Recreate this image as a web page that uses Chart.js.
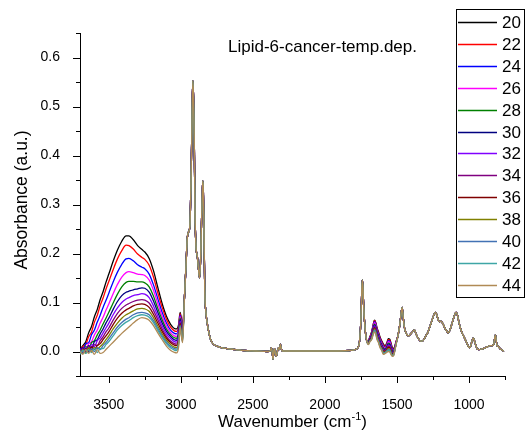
<!DOCTYPE html>
<html>
<head>
<meta charset="utf-8">
<script src="https://cdn.jsdelivr.net/npm/chart.js@4/dist/chart.umd.min.js"></script>
<style>body{margin:0;background:#fff}</style>
</head>
<body>
<canvas id="chart" width="532" height="438"></canvas>
<script>
'use strict';

// 온도 (legend)
const temps = ['20', '22', '24', '26', '28', '30', '32', '34', '36', '38', '40', '42', '44'];
const colors = ['#000000', '#ff0000', '#0000ff', '#ff00ff', '#008000', '#000080', '#8000ff',
    '#800080', '#800000', '#808000', '#4272b4', '#3ea6a6', '#b08a55'];

// O-H band: every temperature has its own curve here
const wnOH = [3700, 3680, 3660, 3640, 3620, 3600, 3580, 3560, 3540, 3520, 3500, 3470, 3440, 3410, 3380, 3360,
    3330, 3300, 3270, 3250, 3220, 3190, 3160, 3130, 3100, 3070, 3045, 3030, 3015, 3005, 2998, 2988];
const ohBand = [
    [0.004, 0.012, 0.020, 0.038, 0.051, 0.071, 0.086, 0.106, 0.122, 0.141, 0.158, 0.184, 0.207, 0.225, 0.236, 0.236, 0.228, 0.216, 0.208, 0.203, 0.190, 0.165, 0.131, 0.098, 0.072, 0.055, 0.047, 0.046, 0.056, 0.080, 0.070, 0.050],
    [0.002, 0.010, 0.014, 0.030, 0.040, 0.060, 0.074, 0.094, 0.109, 0.127, 0.143, 0.167, 0.189, 0.206, 0.217, 0.216, 0.209, 0.199, 0.192, 0.188, 0.176, 0.152, 0.120, 0.090, 0.066, 0.049, 0.042, 0.041, 0.052, 0.077, 0.066, 0.047],
    [0.006, 0.002, 0.016, 0.018, 0.034, 0.044, 0.060, 0.074, 0.090, 0.104, 0.119, 0.142, 0.162, 0.178, 0.189, 0.190, 0.185, 0.177, 0.172, 0.169, 0.158, 0.136, 0.108, 0.080, 0.058, 0.043, 0.037, 0.036, 0.048, 0.074, 0.062, 0.044],
    [0.000, 0.008, 0.004, 0.016, 0.020, 0.034, 0.044, 0.058, 0.070, 0.084, 0.097, 0.118, 0.137, 0.152, 0.161, 0.163, 0.161, 0.158, 0.157, 0.155, 0.146, 0.125, 0.098, 0.072, 0.052, 0.038, 0.032, 0.031, 0.044, 0.071, 0.058, 0.041],
    [0.004, -0.002, 0.010, 0.006, 0.018, 0.022, 0.034, 0.044, 0.056, 0.068, 0.080, 0.099, 0.117, 0.132, 0.141, 0.143, 0.143, 0.142, 0.142, 0.140, 0.132, 0.113, 0.088, 0.065, 0.046, 0.034, 0.028, 0.027, 0.040, 0.068, 0.055, 0.038],
    [0.000, 0.008, 0.000, 0.012, 0.008, 0.020, 0.024, 0.036, 0.046, 0.058, 0.068, 0.086, 0.102, 0.114, 0.121, 0.123, 0.126, 0.128, 0.130, 0.129, 0.121, 0.103, 0.080, 0.058, 0.041, 0.030, 0.024, 0.023, 0.036, 0.065, 0.052, 0.035],
    [0.004, -0.002, 0.008, 0.002, 0.014, 0.010, 0.022, 0.028, 0.038, 0.048, 0.058, 0.075, 0.089, 0.100, 0.107, 0.110, 0.114, 0.116, 0.118, 0.117, 0.110, 0.093, 0.072, 0.052, 0.036, 0.026, 0.020, 0.019, 0.032, 0.062, 0.049, 0.032],
    [-0.002, 0.006, -0.002, 0.010, 0.004, 0.014, 0.012, 0.022, 0.030, 0.040, 0.048, 0.064, 0.078, 0.088, 0.095, 0.098, 0.102, 0.105, 0.106, 0.105, 0.099, 0.084, 0.065, 0.046, 0.031, 0.021, 0.016, 0.015, 0.028, 0.059, 0.046, 0.029],
    [0.002, -0.004, 0.006, 0.000, 0.010, 0.004, 0.012, 0.016, 0.024, 0.032, 0.040, 0.055, 0.068, 0.078, 0.085, 0.088, 0.093, 0.096, 0.097, 0.096, 0.090, 0.076, 0.058, 0.041, 0.027, 0.018, 0.013, 0.012, 0.025, 0.057, 0.044, 0.027],
    [-0.004, 0.004, -0.004, 0.008, 0.000, 0.008, 0.006, 0.010, 0.016, 0.024, 0.032, 0.046, 0.058, 0.068, 0.075, 0.078, 0.083, 0.087, 0.088, 0.087, 0.082, 0.069, 0.052, 0.036, 0.023, 0.014, 0.009, 0.008, 0.021, 0.054, 0.041, 0.024],
    [0.002, -0.004, 0.004, -0.002, 0.006, 0.000, 0.008, 0.004, 0.012, 0.018, 0.026, 0.038, 0.050, 0.059, 0.066, 0.069, 0.075, 0.079, 0.080, 0.079, 0.075, 0.063, 0.047, 0.032, 0.019, 0.010, 0.006, 0.005, 0.018, 0.052, 0.039, 0.022],
    [-0.006, 0.002, -0.004, 0.004, -0.002, 0.006, -0.002, 0.006, 0.006, 0.014, 0.020, 0.032, 0.044, 0.053, 0.060, 0.063, 0.069, 0.073, 0.075, 0.074, 0.070, 0.059, 0.043, 0.029, 0.016, 0.007, 0.003, 0.002, 0.015, 0.050, 0.037, 0.020],
    [0.000, -0.006, 0.004, -0.004, 0.002, -0.006, 0.004, -0.004, -0.002, 0.004, 0.010, 0.019, 0.028, 0.037, 0.045, 0.050, 0.058, 0.065, 0.069, 0.068, 0.064, 0.053, 0.038, 0.024, 0.011, 0.002, -0.002, -0.003, 0.010, 0.048, 0.035, 0.018]
];

// C-H stretch .. C=O: curves overlap, one shared trace
const wnCH = [2975, 2965, 2955, 2945, 2937, 2928, 2922, 2917, 2912, 2907, 2902, 2895, 2886, 2878, 2870, 2862, 2856,
    2851, 2848, 2844, 2840, 2834, 2826, 2817, 2805, 2794, 2775, 2750, 2720, 2680, 2620, 2560, 2480, 2400, 2380,
    2371, 2365, 2360, 2354, 2349, 2343, 2337, 2330, 2321, 2315, 2309, 2303, 2296, 2280, 2200, 2100, 2000, 1900,
    1826, 1790, 1770, 1760, 1750, 1744, 1740, 1736, 1730, 1722, 1714, 1706];
const absCH = [0.110, 0.170, 0.232, 0.245, 0.258, 0.370, 0.480, 0.553, 0.520, 0.438, 0.290, 0.215, 0.195, 0.170,
    0.150, 0.195, 0.270, 0.320, 0.348, 0.330, 0.265, 0.125, 0.080, 0.058, 0.038, 0.025, 0.015, 0.011, 0.008, 0.006,
    0.004, 0.002, 0.001, 0.000, 0.001, 0.008, -0.004, -0.016, 0.002, 0.006, -0.006, -0.010, 0.000, 0.008, 0.004,
    0.015, 0.006, 0.001, 0.001, 0.001, 0.001, 0.001, 0.001, 0.002, 0.004, 0.008, 0.020, 0.066, 0.125, 0.146,
    0.130, 0.085, 0.050, 0.028, 0.018];

// amide I / II: small spread again
const wnAmide = [1698, 1688, 1676, 1665, 1656, 1648, 1638, 1628, 1618, 1606, 1594, 1582, 1570, 1560, 1550, 1542, 1532, 1522, 1512, 1502];
const amideBand = [
    [0.022, 0.030, 0.040, 0.055, 0.064, 0.060, 0.048, 0.040, 0.030, 0.022, 0.015, 0.012, 0.018, 0.026, 0.025, 0.018, 0.008, 0.006, 0.014, 0.024],
    [0.022, 0.029, 0.039, 0.054, 0.063, 0.059, 0.046, 0.038, 0.028, 0.020, 0.013, 0.010, 0.016, 0.024, 0.023, 0.016, 0.006, 0.004, 0.013, 0.024],
    [0.021, 0.028, 0.037, 0.052, 0.061, 0.057, 0.044, 0.036, 0.026, 0.018, 0.011, 0.008, 0.014, 0.022, 0.021, 0.014, 0.004, 0.003, 0.012, 0.023],
    [0.020, 0.027, 0.036, 0.050, 0.059, 0.055, 0.042, 0.034, 0.024, 0.016, 0.009, 0.007, 0.012, 0.020, 0.019, 0.012, 0.002, 0.002, 0.011, 0.023],
    [0.020, 0.026, 0.034, 0.048, 0.056, 0.052, 0.040, 0.032, 0.022, 0.014, 0.007, 0.005, 0.010, 0.017, 0.016, 0.010, 0.001, 0.000, 0.010, 0.022],
    [0.019, 0.025, 0.033, 0.046, 0.054, 0.050, 0.038, 0.030, 0.020, 0.012, 0.005, 0.004, 0.008, 0.015, 0.014, 0.008, -0.001, -0.001, 0.009, 0.022],
    [0.018, 0.024, 0.031, 0.044, 0.052, 0.048, 0.036, 0.028, 0.018, 0.011, 0.003, 0.002, 0.006, 0.013, 0.012, 0.006, -0.003, -0.002, 0.009, 0.022],
    [0.018, 0.023, 0.030, 0.042, 0.050, 0.046, 0.034, 0.026, 0.016, 0.009, 0.002, 0.001, 0.005, 0.011, 0.010, 0.004, -0.004, -0.003, 0.008, 0.021],
    [0.017, 0.023, 0.029, 0.041, 0.048, 0.044, 0.032, 0.024, 0.014, 0.008, 0.000, 0.000, 0.004, 0.009, 0.008, 0.002, -0.005, -0.004, 0.008, 0.021],
    [0.016, 0.022, 0.027, 0.039, 0.046, 0.042, 0.030, 0.022, 0.012, 0.006, -0.002, -0.001, 0.002, 0.006, 0.005, 0.000, -0.007, -0.005, 0.007, 0.021],
    [0.015, 0.021, 0.026, 0.037, 0.044, 0.040, 0.028, 0.021, 0.011, 0.005, -0.003, -0.002, 0.001, 0.004, 0.003, -0.002, -0.008, -0.006, 0.007, 0.020],
    [0.015, 0.021, 0.025, 0.036, 0.042, 0.038, 0.026, 0.020, 0.010, 0.004, -0.004, -0.003, 0.000, 0.002, 0.001, -0.004, -0.009, -0.007, 0.006, 0.020],
    [0.014, 0.020, 0.024, 0.034, 0.040, 0.036, 0.024, 0.018, 0.008, 0.002, -0.006, -0.004, -0.002, 0.000, -0.001, -0.006, -0.010, -0.008, 0.006, 0.020]
];

// fingerprint region, shared
const wnTail = [1493, 1480, 1470, 1464, 1458, 1450, 1440, 1430, 1418, 1405, 1392, 1378, 1368, 1355, 1340, 1325,
    1310, 1296, 1284, 1270, 1255, 1242, 1234, 1226, 1215, 1205, 1195, 1180, 1168, 1155, 1145, 1135, 1120, 1105,
    1095, 1088, 1080, 1070, 1060, 1048, 1035, 1022, 1010, 998, 990, 980, 970, 962, 952, 942, 930, 915, 900, 885,
    870, 855, 840, 828, 820, 816, 812, 805, 795, 785, 775, 765, 758];
const absTail = [0.032, 0.055, 0.080, 0.090, 0.075, 0.052, 0.040, 0.034, 0.032, 0.036, 0.040, 0.044, 0.036, 0.028,
    0.022, 0.021, 0.026, 0.034, 0.040, 0.052, 0.065, 0.076, 0.080, 0.077, 0.066, 0.061, 0.062, 0.056, 0.048, 0.042,
    0.038, 0.042, 0.055, 0.070, 0.078, 0.080, 0.074, 0.060, 0.048, 0.038, 0.030, 0.022, 0.014, 0.008, 0.010, 0.020,
    0.028, 0.022, 0.012, 0.005, 0.004, 0.005, 0.006, 0.008, 0.010, 0.012, 0.012, 0.015, 0.030, 0.034, 0.025, 0.012,
    0.010, 0.006, 0.004, 0.002, 0.000];

// 축 눈금
const xTicks = [3500, 3000, 2500, 2000, 1500, 1000];
const xMinor = [3250, 2750, 2250, 1750, 1250, 750];
const yTicks = [0.0, 0.1, 0.2, 0.3, 0.4, 0.5, 0.6];
const yMinor = [-0.05, 0.05, 0.15, 0.25, 0.35, 0.45, 0.55, 0.65];

const FONT = "'Liberation Sans', Arial, sans-serif";

const wavenumbers = wnOH.concat(wnCH, wnAmide, wnTail);

function buildSeries(i) {
    const ys = ohBand[i].concat(absCH, amideBand[i], absTail);
    return wavenumbers.map((w, k) => ({ x: w, y: ys[k] }));
}

// ticks, titles, legend box
const decor = {
    id: 'decor',
    afterDraw(chart) {
        const ctx = chart.ctx;
        const area = chart.chartArea;
        const sx = chart.scales.x;
        const sy = chart.scales.y;
        ctx.save();
        ctx.strokeStyle = '#000';
        ctx.lineWidth = 1;
        ctx.beginPath();
        xTicks.forEach(v => {
            const p = Math.round(sx.getPixelForValue(v)) + 0.5;
            ctx.moveTo(p, area.bottom); ctx.lineTo(p, area.bottom + 7);
        });
        xMinor.forEach(v => {
            const p = Math.round(sx.getPixelForValue(v)) + 0.5;
            ctx.moveTo(p, area.bottom); ctx.lineTo(p, area.bottom + 4);
        });
        yTicks.forEach(v => {
            const p = Math.round(sy.getPixelForValue(v)) + 0.5;
            ctx.moveTo(area.left, p); ctx.lineTo(area.left - 7, p);
        });
        yMinor.forEach(v => {
            const p = Math.round(sy.getPixelForValue(v)) + 0.5;
            ctx.moveTo(area.left, p); ctx.lineTo(area.left - 4, p);
        });
        ctx.stroke();

        ctx.fillStyle = '#000';
        // inner title
        ctx.font = '17px ' + FONT;
        ctx.textAlign = 'left';
        ctx.textBaseline = 'alphabetic';
        ctx.fillText('Lipid-6-cancer-temp.dep.', 228, 52);

        // x title with superscript
        const main = 'Wavenumber (cm';
        const sup = '-1';
        ctx.font = '17px ' + FONT;
        const w1 = ctx.measureText(main).width;
        const w3 = ctx.measureText(')').width;
        ctx.font = '11px ' + FONT;
        const w2 = ctx.measureText(sup).width;
        let x0 = (area.left + area.right) / 2 - (w1 + w2 + w3) / 2;
        ctx.font = '17px ' + FONT;
        ctx.fillText(main, x0, 427);
        ctx.font = '11px ' + FONT;
        ctx.fillText(sup, x0 + w1, 420);
        ctx.font = '17px ' + FONT;
        ctx.fillText(')', x0 + w1 + w2, 427);

        // y title
        ctx.save();
        ctx.translate(22, 200);
        ctx.rotate(-Math.PI / 2);
        ctx.textAlign = 'center';
        ctx.textBaseline = 'middle';
        ctx.font = '17.5px ' + FONT;
        ctx.fillText('Absorbance (a.u.)', 0, 0);
        ctx.restore();

        // legend
        ctx.fillStyle = '#fff';
        ctx.fillRect(456, 9, 68, 288);
        ctx.strokeStyle = '#000';
        ctx.strokeRect(456.5, 9.5, 68, 288);
        ctx.font = '17px ' + FONT;
        ctx.textBaseline = 'middle';
        ctx.textAlign = 'left';
        chart.data.datasets.forEach((ds, i) => {
            const y = Math.round(22 + i * 21.9) + 0.5;
            ctx.strokeStyle = ds.borderColor;
            ctx.lineWidth = 1.5;
            ctx.beginPath();
            ctx.moveTo(458, y); ctx.lineTo(497, y);
            ctx.stroke();
            ctx.fillStyle = '#000';
            ctx.fillText(ds.label, 502, y + 1);
        });
        ctx.restore();
    }
};

const datasets = temps.map((t, i) => ({
    label: t,
    data: buildSeries(i),
    borderColor: colors[i],
    borderWidth: 1.3,
    pointRadius: 0,
    fill: false,
    cubicInterpolationMode: 'monotone',
    order: temps.length - i
}));

const chart = new Chart(document.getElementById('chart'), {
    type: 'line',
    data: { datasets: datasets },
    options: {
        responsive: false,
        animation: false,
        layout: { padding: { top: 33, right: 27, left: 0, bottom: 0 } },
        scales: {
            x: {
                type: 'linear',
                reverse: true,
                min: 750,
                max: 3700,
                grid: { display: false },
                border: { display: true, color: '#000', width: 1 },
                ticks: { color: '#000', padding: 13, maxRotation: 0, font: { size: 14, family: FONT }, callback: v => String(v) },
                afterBuildTicks: s => { s.ticks = xTicks.map(v => ({ value: v })); },
                afterFit: s => { s.height = 62; }
            },
            y: {
                min: -0.05,
                max: 0.65,
                grid: { display: false },
                border: { display: true, color: '#000', width: 1 },
                ticks: { color: '#000', padding: 12, font: { size: 14, family: FONT }, callback: v => v.toFixed(1) },
                afterBuildTicks: s => { s.ticks = yTicks.map(v => ({ value: v })); },
                afterFit: s => { s.width = 80; }
            }
        },
        plugins: { legend: { display: false }, tooltip: { enabled: false } }
    },
    plugins: [decor]
});
</script>
</body>
</html>
